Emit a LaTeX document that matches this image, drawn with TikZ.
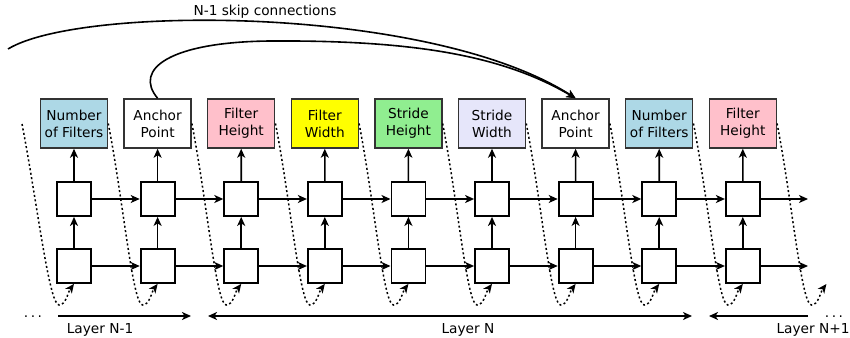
\documentclass[tikz,border=0pt]{standalone}
\usepackage{fontspec}
\setmainfont{DejaVu Sans}
\usepackage{xcolor}
\usepackage{tikz}
\usetikzlibrary{arrows.meta}
\definecolor{nfcol}{RGB}{173,216,230}
\definecolor{fhcol}{RGB}{255,192,203}
\definecolor{fwcol}{RGB}{255,255,0}
\definecolor{shcol}{RGB}{144,238,144}
\definecolor{swcol}{RGB}{230,230,250}
\tikzstyle{param}=[rectangle,draw=black!80,line width=1.5pt,minimum width=67pt,minimum height=49pt,inner sep=2pt,align=center]
\tikzstyle{cell}=[rectangle,draw=black,line width=1.8pt,fill=white,minimum size=34pt,inner sep=0pt]
\tikzstyle{link}=[->,line width=1.6pt]
\tikzstyle{carry}=[->,line width=1.5pt,dash pattern=on 2pt off 2.5pt]

\begin{document}
\begin{tikzpicture}[x=1pt,y=-1pt,>={Stealth[length=9pt,width=8pt,inset=2.5pt]},font=\fontsize{13.7}{17}\selectfont]
        \useasboundingbox (0,0) rectangle (850,337);

        % controller outputs
        \node at (74,123.5)    [param,fill=nfcol] (t0) {Number\\of Filters};
        \node at (157.6,123.5) [param]            (t1) {Anchor\\Point};
        \node at (241.2,123.5) [param,fill=fhcol] (t2) {Filter\\Height};
        \node at (324.8,123.5) [param,fill=fwcol] (t3) {Filter\\Width};
        \node at (408.4,123.5) [param,fill=shcol] (t4) {Stride\\Height};
        \node at (492,123.5)   [param,fill=swcol] (t5) {Stride\\Width};
        \node at (575.6,123.5) [param]            (t6) {Anchor\\Point};
        \node at (659.2,123.5) [param,fill=nfcol] (t7) {Number\\of Filters};
        \node at (742.8,123.5) [param,fill=fhcol] (t8) {Filter\\Height};

        % two stacked cells per step
        \foreach \i [evaluate=\i as \x using 74+83.6*\i] in {0,...,8} {
          \node at (\x,199) [cell] (m\i) {};
          \node at (\x,266) [cell] (b\i) {};
          \coordinate (e\i) at (b\i.south);
          \coordinate (d\i) at (\x-15,305);
          \draw [link] (b\i) -- (m\i);
          \draw [link] (m\i) -- (t\i);
        }
        \foreach \i [count=\j] in {0,...,7} {
          \draw [link] (m\i) -- (m\j);
          \draw [link] (b\i) -- (b\j);
        }
        \coordinate (mout) at (808,199);
        \coordinate (bout) at (808,266);
        \draw [link] (m8) -- (mout);
        \draw [link] (b8) -- (bout);

        % output fed back as next input
        \coordinate (s0) at (22,124);
        \coordinate (d9) at (811.4,305);
        \coordinate (e9) at (826.4,284);
        \draw [carry] (s0) .. controls +(15,77) and +(-10,0) .. (d0) .. controls +(7,0) and +(-6,8) .. (e0);
        \foreach \i [count=\j] in {0,...,8} {
          \draw [carry] (t\i.east) .. controls +(15,77) and +(-10,0) .. (d\j) .. controls +(7,0) and +(-6,8) .. (e\j);
        }

        % skip connections
        \coordinate (skipL) at (8,49);
        \coordinate (skipM) at (270,41);
        \draw [link] (skipL) .. controls (80,5) and (430,5) .. (t6.north);
        \draw [link] (t1.north) .. controls (133,69) and (170,42) .. (skipM) .. controls (420,40) and (505,57) .. (t6.north);
        \node [anchor=base] at (265,16) (skiplbl) {N-1 skip connections};

        % layers
        \node [anchor=base] at (33,317)  (dotsL) {.\kern2.5pt.\kern2.5pt.};
        \node [anchor=base] at (834,317) (dotsR) {.\kern2.5pt.\kern2.5pt.};
        \coordinate (l1a) at (58,316);
        \coordinate (l1b) at (191,316);
        \coordinate (l2a) at (208,316);
        \coordinate (l2b) at (692,316);
        \coordinate (l3a) at (808,316);
        \coordinate (l3b) at (709,316);
        \draw [link] (l1a) -- (l1b);
        \draw [link,<->] (l2a) -- (l2b);
        \draw [link] (l3a) -- (l3b);
        \node [anchor=base] at (100,333) (lay1) {Layer N-1};
        \node [anchor=base] at (468,333) (lay2) {Layer N};
        \node [anchor=base] at (813,333) (lay3) {Layer N+1};
      \end{tikzpicture}
\end{document}
